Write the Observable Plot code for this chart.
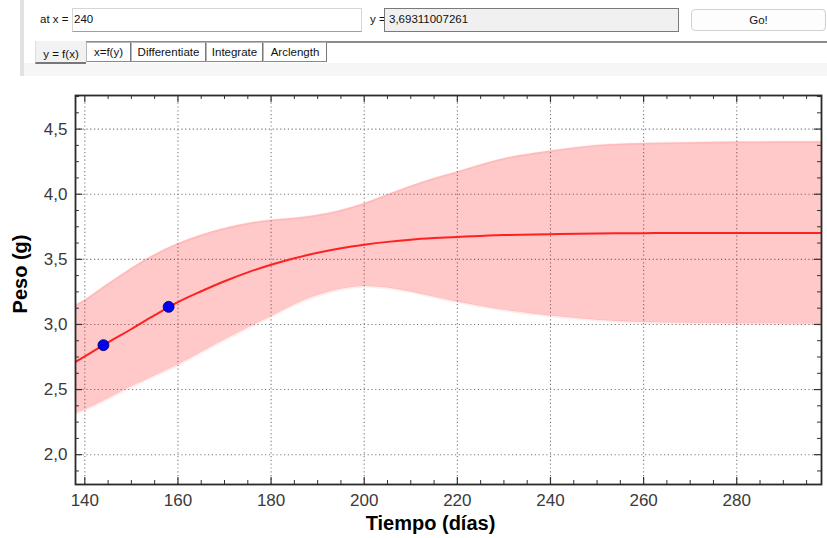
<!DOCTYPE html>
<html>
<head>
<meta charset="utf-8">
<script src="https://cdn.jsdelivr.net/npm/d3@7"></script>
<script src="https://cdn.jsdelivr.net/npm/@observablehq/plot@0.6"></script>
<style>
  body { margin: 0; background: #fff; }
  #wrap { position: relative; width: 827px; height: 538px; overflow: hidden; background: #fff; }
  #chart { position: absolute; left: 0; top: 0; }
  #tb { position: absolute; left: 0; top: 0; width: 827px; height: 76px;
        font-family: "Liberation Sans", Arial, sans-serif; font-size: 11.5px; color: #111; }
  #tb div { position: absolute; box-sizing: border-box; white-space: nowrap; }
  .vbar { left: 20px; top: 0; width: 4px; height: 76px; background: #e2e2e2; }
  .lower { left: 24px; top: 63px; width: 803px; height: 13px; background: #f6f6f6; }
  .lbl { line-height: 14px; }
  .inp1 { left: 72px; top: 8px; width: 290px; height: 24px; border: 1px solid #d6d6d6; border-bottom-color: #a0a0a0;
          background: #fff; padding: 3px 0 0 1px; line-height: 14px; }
  .inp2 { left: 384px; top: 8px; width: 295px; height: 24px; border: 1px solid #7a7a7a;
          background: #f0f0f0; padding: 3px 0 0 4px; line-height: 14px; }
  .go { left: 691px; top: 9px; width: 135px; height: 22px; border: 1px solid #d0d0d0; border-radius: 4px;
        background: #fdfdfd; text-align: center; line-height: 20px; }
  .tabline { left: 85px; top: 41px; width: 742px; height: 2px; background: #8c8c8c; }
  .tab { top: 42px; height: 20px; border: 1px solid #b8b8b8; border-right-color: #777; border-bottom-color: #888;
         background: #fff; text-align: center; line-height: 18px; }
  .tabsel { left: 35px; top: 41px; width: 51px; height: 23px; background: #f2f2f2; border-bottom: 2px solid #777;
            border-left: 1px solid #ddd; text-align: center; line-height: 26px; }
</style>
</head>
<body>
<div id="wrap">
  <div id="chart"></div>
  <div id="tb">
    <div class="vbar"></div>
    <div class="lower"></div>
    <div class="lbl" style="left:40px;top:12px;">at x =</div>
    <div class="inp1">240</div>
    <div class="lbl" style="left:370px;top:12px;">y =</div>
    <div class="inp2">3,69311007261</div>
    <div class="go">Go!</div>
    <div class="tabline"></div>
    <div class="tabsel">y = f(x)</div>
    <div class="tab" style="left:86px;width:45px;">x=f(y)</div>
    <div class="tab" style="left:131px;width:75px;">Differentiate</div>
    <div class="tab" style="left:206px;width:57px;">Integrate</div>
    <div class="tab" style="left:263px;width:64px;">Arclength</div>
  </div>
</div>
<script>
// ---- data ----
const days   = [138, 140, 145, 150, 155, 160, 165, 170, 175, 180, 185, 190, 195, 200, 205, 210, 215, 220, 225, 230, 240, 250, 260, 270, 280, 290, 298.2];
const meanW  = [2.712, 2.755, 2.862, 2.965, 3.071, 3.172, 3.255, 3.332, 3.400, 3.458, 3.508, 3.550, 3.585, 3.612, 3.634, 3.651, 3.663, 3.672, 3.680, 3.686, 3.693, 3.698, 3.701, 3.702, 3.703, 3.703, 3.703];
const upperW = [3.148, 3.186, 3.310, 3.430, 3.535, 3.620, 3.685, 3.736, 3.775, 3.800, 3.815, 3.838, 3.875, 3.928, 3.995, 4.062, 4.120, 4.170, 4.225, 4.273, 4.331, 4.375, 4.390, 4.396, 4.400, 4.402, 4.403];
const lowerW = [2.317, 2.343, 2.430, 2.521, 2.605, 2.688, 2.785, 2.880, 2.972, 3.060, 3.150, 3.222, 3.270, 3.292, 3.280, 3.250, 3.210, 3.172, 3.140, 3.110, 3.064, 3.033, 3.015, 3.009, 3.006, 3.004, 3.003];
const obsDays = [144, 158];
const obsW    = [2.841, 3.135];
const xMajor = [140, 160, 180, 200, 220, 240, 260, 280];
const xMinor = d3.range(140, 298, 5).filter(d => d % 20 !== 0);
const yMajor = [2.0, 2.5, 3.0, 3.5, 4.0, 4.5];
const yMinor = d3.range(1.875, 4.76, 0.125).filter(d => Math.abs(d * 2 - Math.round(d * 2)) > 1e-6);
const xTitle = "Tiempo (días)";
const yTitle = "Peso (g)";

const curve = days.map((d, i) => ({day: d, mean: meanW[i], hi: upperW[i], lo: lowerW[i]}));
const obs = obsDays.map((d, i) => ({day: d, w: obsW[i]}));

const W = 827, H = 538, mL = 75, mR = 6, mT = 95, mB = 54;
const innerW = W - mL - mR, innerH = H - mT - mB;
const fmt = d => d.toFixed(1).replace(".", ",");
const grid = {stroke: "#7a7a7a", strokeOpacity: 1, strokeWidth: 1.1, strokeDasharray: "1.2,2.6"};
const tickColor = "#333";

const chart = Plot.plot({
  width: W, height: H,
  marginLeft: mL, marginRight: mR, marginTop: mT, marginBottom: mB,
  style: {fontFamily: "'Liberation Sans', Arial, sans-serif", fontSize: "17px", background: "#fff", color: "#3a3a3a"},
  x: {domain: [138, 298.2]},
  y: {domain: [1.771, 4.758]},
  marks: [
    Plot.gridX(xMajor, grid),
    Plot.gridY(yMajor, grid),
    Plot.areaY(curve, {x: "day", y1: "lo", y2: "hi", curve: "catmull-rom", fill: "#ff0000", fillOpacity: 0.21, clip: true}),
    Plot.line(curve, {x: "day", y: "hi", curve: "catmull-rom", stroke: "#ff0000", strokeOpacity: 0.07, strokeWidth: 2.5, clip: true}),
    Plot.line(curve, {x: "day", y: "lo", curve: "catmull-rom", stroke: "#ff0000", strokeOpacity: 0.07, strokeWidth: 2.5, clip: true}),
    Plot.line(curve, {x: "day", y: "mean", curve: "catmull-rom", stroke: "#ff2020", strokeWidth: 2, clip: true}),
    Plot.dot(obs, {x: "day", y: "w", r: 5.5, fill: "#0000f0", stroke: "#000060", strokeWidth: 0.8}),
    // inward ticks on all four sides
    Plot.ruleX(xMajor, {x: d => d, insetTop: innerH - 7, stroke: tickColor, strokeWidth: 1.2}),
    Plot.ruleX(xMajor, {x: d => d, insetBottom: innerH - 7, stroke: tickColor, strokeWidth: 1.2}),
    Plot.ruleX(xMinor, {x: d => d, insetTop: innerH - 4, stroke: tickColor, strokeWidth: 1}),
    Plot.ruleX(xMinor, {x: d => d, insetBottom: innerH - 4, stroke: tickColor, strokeWidth: 1}),
    Plot.ruleY(yMajor, {y: d => d, insetRight: innerW - 7, stroke: tickColor, strokeWidth: 1.2}),
    Plot.ruleY(yMajor, {y: d => d, insetLeft: innerW - 7, stroke: tickColor, strokeWidth: 1.2}),
    Plot.ruleY(yMinor, {y: d => d, insetRight: innerW - 4, stroke: tickColor, strokeWidth: 1}),
    Plot.ruleY(yMinor, {y: d => d, insetLeft: innerW - 4, stroke: tickColor, strokeWidth: 1}),
    Plot.frame({stroke: "#2a2a2a", strokeWidth: 1.8}),
    Plot.axisX(xMajor, {tickSize: 0, tickPadding: 9, label: null, fill: "#3a3a3a"}),
    Plot.axisY(yMajor, {tickSize: 0, tickPadding: 8, tickFormat: fmt, label: null, fill: "#3a3a3a"}),
    Plot.text([xTitle], {frameAnchor: "bottom", textAnchor: "middle", lineAnchor: "bottom", dx: -18, dy: 45, text: d => d, fontSize: 20, fontWeight: "bold", fill: "#000"}),
    Plot.text([yTitle], {frameAnchor: "left", textAnchor: "middle", lineAnchor: "middle", dx: -55, dy: -16, rotate: -90, text: d => d, fontSize: 20, fontWeight: "bold", fill: "#000"})
  ]
});
document.getElementById("chart").appendChild(chart);
</script>
</body>
</html>
